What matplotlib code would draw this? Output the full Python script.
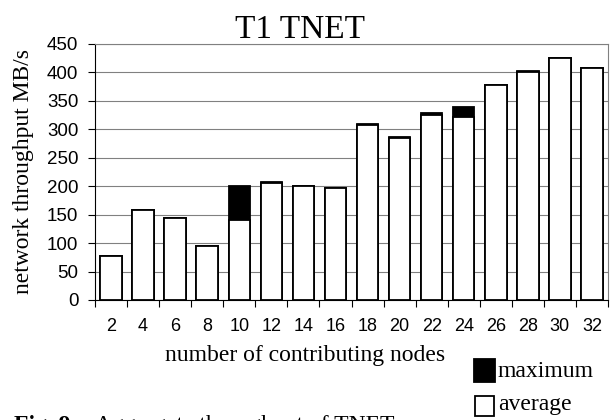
import matplotlib
matplotlib.use("Agg")
import matplotlib.pyplot as plt
from matplotlib.patches import Rectangle

# data
nodes = [2, 4, 6, 8, 10, 12, 14, 16, 18, 20, 22, 24, 26, 28, 30, 32]
average = [78, 159, 144, 95, 140, 206, 201, 196, 307, 284, 326, 322, 378, 400, 426, 408]
maximum = [78, 159, 144, 95, 201, 207, 201, 196, 310, 287, 329, 340, 378, 403, 426, 408]
y_ticks = [0, 50, 100, 150, 200, 250, 300, 350, 400, 450]

W, H = 613, 420
serif = "Liberation Serif"
sans = "Liberation Sans"

fig = plt.figure(figsize=(W / 100, H / 100), dpi=100)
ax = fig.add_axes([95 / W, 1 - 300 / H, (608 - 95) / W, (300 - 44) / H])

x = list(range(len(nodes)))
bw = 0.67
ax.bar(x, maximum, width=bw, color="black", edgecolor="black", linewidth=1.3, zorder=2)
ax.bar(x, average, width=bw, color="white", edgecolor="black", linewidth=1.3, zorder=3)

ax.set_xlim(-0.5, len(nodes) - 0.5)
ax.set_ylim(0, 450)
ax.set_yticks(y_ticks)
ax.set_xticks(x)
ax.set_xticklabels([str(n) for n in nodes])
ax.set_xticks([i - 0.5 for i in range(len(nodes) + 1)], minor=True)

ax.tick_params(axis="x", which="major", length=0, pad=13, labelsize=13)
ax.tick_params(axis="x", which="minor", length=5, width=0.8, direction="out")
ax.tick_params(axis="y", length=5, width=0.8, pad=7, labelsize=13.5)
for lab in ax.get_xticklabels() + ax.get_yticklabels():
    lab.set_fontfamily(sans)

ax.set_axisbelow(True)
ax.grid(axis="y", color="#808080", linewidth=0.8)
ax.spines["left"].set_color("black")
ax.spines["bottom"].set_color("black")
ax.spines["top"].set_color("#808080")
ax.spines["right"].set_color("#808080")
for s in ax.spines.values():
    s.set_linewidth(0.8)

# texts
fig.text(300 / W, 1 - 38 / H, "T1 TNET", family=serif, fontsize=24, ha="center", va="baseline")
fig.text(305 / W, 1 - 361 / H, "number of contributing nodes", family=serif, fontsize=17,
         ha="center", va="baseline")
fig.text(24 / W, 1 - 172 / H, "network throughput MB/s", family=serif, fontsize=17,
         ha="center", va="center", rotation=90)

# legend
fig.add_artist(Rectangle((474 / W, 1 - 382 / H), 21 / W, 23 / H, transform=fig.transFigure,
                         facecolor="black", edgecolor="black", linewidth=1.3))
fig.add_artist(Rectangle((475 / W, 1 - 416 / H), 19 / W, 20 / H, transform=fig.transFigure,
                         facecolor="white", edgecolor="black", linewidth=1.3))
fig.text(498 / W, 1 - 377 / H, "maximum", family=serif, fontsize=17, va="baseline")
fig.text(498 / W, 1 - 410 / H, "average", family=serif, fontsize=17, va="baseline")

# caption, cut off at the bottom edge like the original
fig.text(14 / W, 1 - 431 / H, "Fig. 9.", family=serif, fontsize=17, fontweight="bold", va="baseline")
fig.text(95 / W, 1 - 431 / H, "Aggregate throughput of TNET", family=serif, fontsize=17, va="baseline")

fig.savefig("out.png", dpi=100)
